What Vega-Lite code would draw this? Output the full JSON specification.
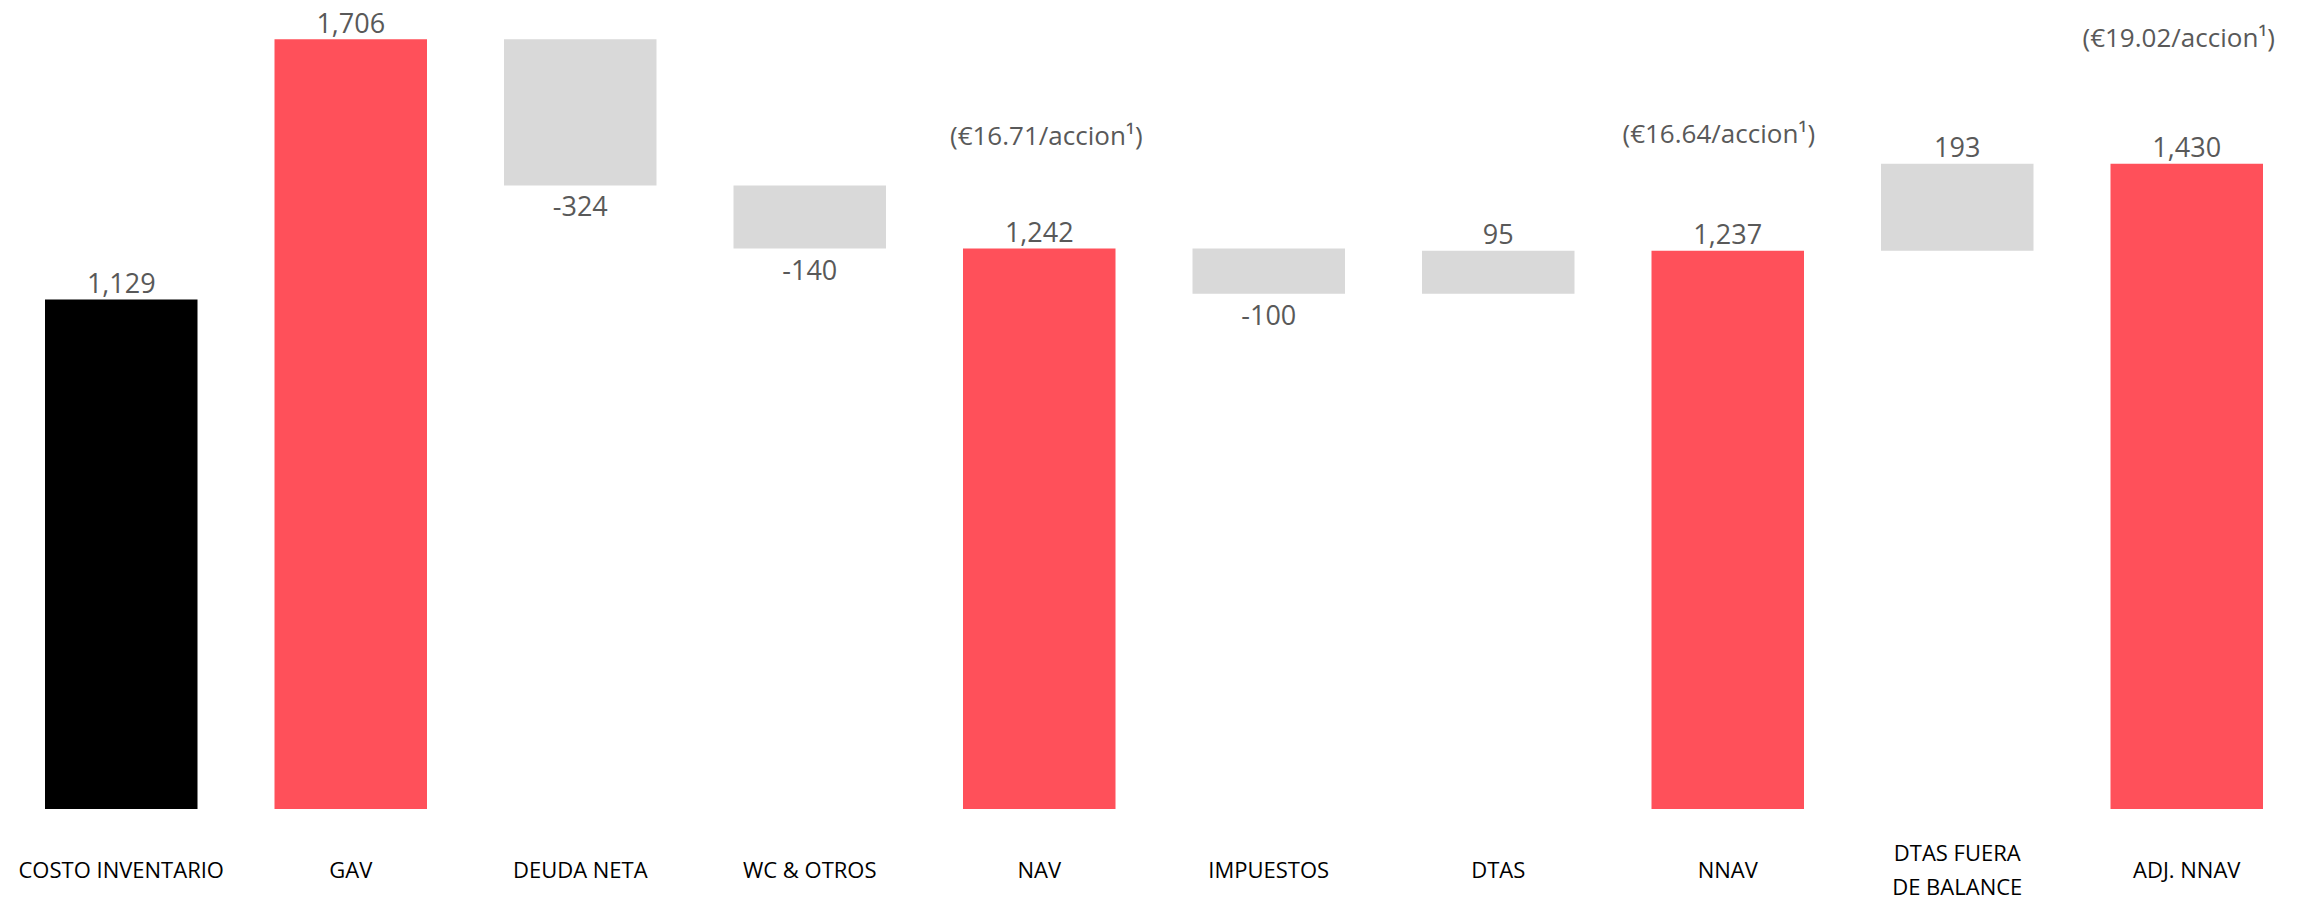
{
  "$schema": "https://vega.github.io/schema/vega-lite/v6.json",
  "width": 2298,
  "height": 809,
  "autosize": "none",
  "padding": {"left": 0, "right": 0, "top": 0, "bottom": 92},
  "background": "white",
  "config": {"view": {"stroke": null}},
  "data": {
    "values": [
      {"cat": "Costo Inventario", "start": 0, "end": 1129, "value": 1129, "label": "1,129", "kind": "base"},
      {"cat": "GAV", "start": 0, "end": 1706, "value": 1706, "label": "1,706", "kind": "total"},
      {"cat": "Deuda Neta", "start": 1706, "end": 1382, "value": -324, "label": "-324", "kind": "delta"},
      {"cat": "WC & Otros", "start": 1382, "end": 1242, "value": -140, "label": "-140", "kind": "delta"},
      {"cat": "NAV", "start": 0, "end": 1242, "value": 1242, "label": "1,242", "kind": "total", "note": "(€16.71/accion¹)"},
      {"cat": "Impuestos", "start": 1242, "end": 1142, "value": -100, "label": "-100", "kind": "delta"},
      {"cat": "DTAs", "start": 1142, "end": 1237, "value": 95, "label": "95", "kind": "delta"},
      {"cat": "NNAV", "start": 0, "end": 1237, "value": 1237, "label": "1,237", "kind": "total", "note": "(€16.64/accion¹)"},
      {"cat": "DTAs fuera de balance", "start": 1237, "end": 1430, "value": 193, "label": "193", "kind": "delta"},
      {"cat": "ADJ. NNAV", "start": 0, "end": 1430, "value": 1430, "label": "1,430", "kind": "total", "note": "(€19.02/accion¹)"}
    ]
  },
  "encoding": {
    "x": {
      "field": "cat",
      "type": "nominal",
      "sort": null,
      "scale": {"range": [45, 2263], "paddingInner": 0.3355, "paddingOuter": 0},
      "axis": {
        "title": null,
        "domain": false,
        "ticks": false,
        "tickSize": 0,
        "labelAngle": 0,
        "labelPadding": {"condition": {"test": "datum.value == 'DTAs fuera de balance'", "value": 44}, "value": 61},
        "labelBaseline": "middle",
        "labelFont": "Open Sans",
        "labelFontSize": 22,
        "labelColor": "#000000",
        "labelLineHeight": 34,
        "labelLimit": 0,
        "labelExpr": "datum.value == 'DTAs fuera de balance' ? ['DTAS FUERA', 'DE BALANCE'] : upper(datum.value)"
      }
    }
  },
  "layer": [
    {
      "mark": {"type": "bar"},
      "encoding": {
        "y": {"field": "start", "type": "quantitative", "scale": {"domain": [0, 1793], "nice": false, "zero": false}, "axis": null},
        "y2": {"field": "end"},
        "color": {
          "field": "kind",
          "type": "nominal",
          "scale": {"domain": ["base", "total", "delta"], "range": ["#000000", "#FF505A", "#D9D9D9"]},
          "legend": null
        }
      }
    },
    {
      "transform": [{"filter": "datum.value >= 0"}],
      "mark": {"type": "text", "baseline": "alphabetic", "dy": -6.5, "fontSize": 27, "font": "Open Sans", "color": "#595959"},
      "encoding": {"y": {"field": "end", "type": "quantitative"}, "text": {"field": "label"}}
    },
    {
      "transform": [{"filter": "datum.value < 0"}],
      "mark": {"type": "text", "baseline": "alphabetic", "dy": 31, "fontSize": 27, "font": "Open Sans", "color": "#595959"},
      "encoding": {"y": {"field": "end", "type": "quantitative"}, "text": {"field": "label"}}
    },
    {
      "transform": [{"filter": "datum.cat == 'NAV'"}],
      "mark": {"type": "text", "baseline": "alphabetic", "dy": -104, "dx": 7, "fontSize": 26, "font": "Open Sans", "color": "#595959"},
      "encoding": {"y": {"field": "end", "type": "quantitative"}, "text": {"field": "note"}}
    },
    {
      "transform": [{"filter": "datum.cat == 'NNAV'"}],
      "mark": {"type": "text", "baseline": "alphabetic", "dy": -108, "dx": -9, "fontSize": 26, "font": "Open Sans", "color": "#595959"},
      "encoding": {"y": {"field": "end", "type": "quantitative"}, "text": {"field": "note"}}
    },
    {
      "transform": [{"filter": "datum.cat == 'ADJ. NNAV'"}],
      "mark": {"type": "text", "baseline": "alphabetic", "dy": -117, "dx": -8, "fontSize": 26, "font": "Open Sans", "color": "#595959"},
      "encoding": {"y": {"field": "end", "type": "quantitative"}, "text": {"field": "note"}}
    }
  ]
}
